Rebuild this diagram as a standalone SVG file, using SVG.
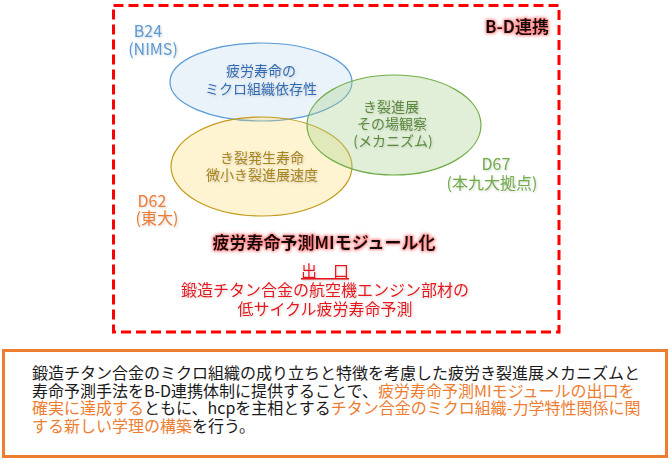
<svg xmlns="http://www.w3.org/2000/svg" width="670" height="460" viewBox="0 0 670 460">
  <defs>
    <filter id="redglow" x="-20%" y="-50%" width="140%" height="200%">
      <feMorphology in="SourceAlpha" operator="dilate" radius="1" result="d"/>
      <feGaussianBlur in="d" stdDeviation="1.8" result="b"/>
      <feFlood flood-color="#FF3030" flood-opacity="0.55"/>
      <feComposite in2="b" operator="in" result="g"/>
      <feMerge><feMergeNode in="g"/><feMergeNode in="SourceGraphic"/></feMerge>
    </filter>
    <filter id="soft" x="-20%" y="-50%" width="140%" height="200%">
      <feGaussianBlur in="SourceAlpha" stdDeviation="1" result="b"/>
      <feOffset in="b" dx="0.6" dy="0.8" result="o"/>
      <feFlood flood-color="#808080" flood-opacity="0.35"/>
      <feComposite in2="o" operator="in" result="g"/>
      <feMerge><feMergeNode in="g"/><feMergeNode in="SourceGraphic"/></feMerge>
    </filter>
  </defs>
  <style>
    text { font-family: "Noto Sans CJK JP", "Noto Sans", "Liberation Sans", sans-serif; }
    .lbl { font-size: 16px; text-anchor: middle; }
    .in { font-size: 14px; text-anchor: middle; }
    .body { font-size: 16px; fill: #1a1a1a; }
    .or { fill: #ED7D31; }
    .red { fill: #E8141C; text-anchor: middle; font-size: 16px; }
  </style>
  <rect width="670" height="460" fill="#FFFFFF"/>

  <g id="bd-frame">
    <rect x="113.5" y="5.5" width="445.5" height="326.5" fill="none" stroke="#FF0000" stroke-width="3" stroke-dasharray="10 5"/>
    <text x="517" y="33" font-size="17" font-weight="bold" text-anchor="middle" fill="#111" filter="url(#redglow)">B-D連携</text>
  </g>

  <g id="node-b24">
    <ellipse cx="261" cy="82" rx="91" ry="39" fill="#9DC3E6" fill-opacity="0.2" stroke="#5B9BD5" stroke-width="1.2"/>
    <text class="in" x="261" y="76" fill="#2F6DB5" filter="url(#soft)">疲労寿命の</text>
    <text class="in" x="261" y="94" fill="#2F6DB5" filter="url(#soft)">ミクロ組織依存性</text>
    <text class="lbl" x="148" y="37" fill="#5B9BD5" filter="url(#soft)">B24</text>
    <text class="lbl" x="153" y="55" fill="#5B9BD5" filter="url(#soft)">(NIMS)</text>
  </g>

  <g id="node-d62">
    <ellipse cx="261.5" cy="166.5" rx="90.5" ry="49.5" fill="#FFD966" fill-opacity="0.3" stroke="#C49A1C" stroke-width="1.2"/>
    <text class="in" x="262" y="163" fill="#A8861C" filter="url(#soft)">き裂発生寿命</text>
    <text class="in" x="262" y="180" fill="#A8861C" filter="url(#soft)">微小き裂進展速度</text>
    <text class="lbl" x="152" y="207" fill="#ED7D31" filter="url(#soft)">D62</text>
    <text class="lbl" x="157" y="224" fill="#ED7D31" filter="url(#soft)">(東大)</text>
  </g>

  <g id="node-d67">
    <ellipse cx="394" cy="125" rx="87" ry="50" fill="#A9D18E" fill-opacity="0.35" stroke="#70AD47" stroke-width="1.2"/>
    <text class="in" x="391" y="112" fill="#5A8A3A" filter="url(#soft)">き裂進展</text>
    <text class="in" x="392" y="129" fill="#5A8A3A" filter="url(#soft)">その場観察</text>
    <text class="in" x="393" y="146" fill="#5A8A3A" filter="url(#soft)">(メカニズム)</text>
    <text class="lbl" x="496" y="170" fill="#70AD47" filter="url(#soft)">D67</text>
    <text class="lbl" x="492" y="189" fill="#70AD47" filter="url(#soft)">(本九大拠点)</text>
  </g>

  <g id="goal">
    <text x="324" y="249" font-size="17" font-weight="bold" text-anchor="middle" fill="#111" filter="url(#redglow)">疲労寿命予測MIモジュール化</text>
    <text class="red" x="325" y="277" font-size="15" text-decoration="underline" filter="url(#soft)">出　口</text>
    <text class="red" x="325" y="296" filter="url(#soft)">鍛造チタン合金の航空機エンジン部材の</text>
    <text class="red" x="325" y="315" filter="url(#soft)">低サイクル疲労寿命予測</text>
  </g>

  <g id="connectors"></g>

  <g id="summary">
    <rect x="3.5" y="350.5" width="663" height="106" fill="#FFFFFF" stroke="#ED7D31" stroke-width="3"/>
    <text class="body" x="32" y="379">鍛造チタン合金のミクロ組織の成り立ちと特徴を考慮した疲労き裂進展メカニズムと</text>
    <text class="body" x="32" y="396.5">寿命予測手法をB-D連携体制に提供することで、<tspan class="or">疲労寿命予測MIモジュールの出口を</tspan></text>
    <text class="body" x="32" y="414"><tspan class="or">確実に達成する</tspan>ともに、hcpを主相とする<tspan class="or">チタン合金のミクロ組織-力学特性関係に関</tspan></text>
    <text class="body" x="32" y="432"><tspan class="or">する新しい学理の構築</tspan>を行う。</text>
  </g>
</svg>
